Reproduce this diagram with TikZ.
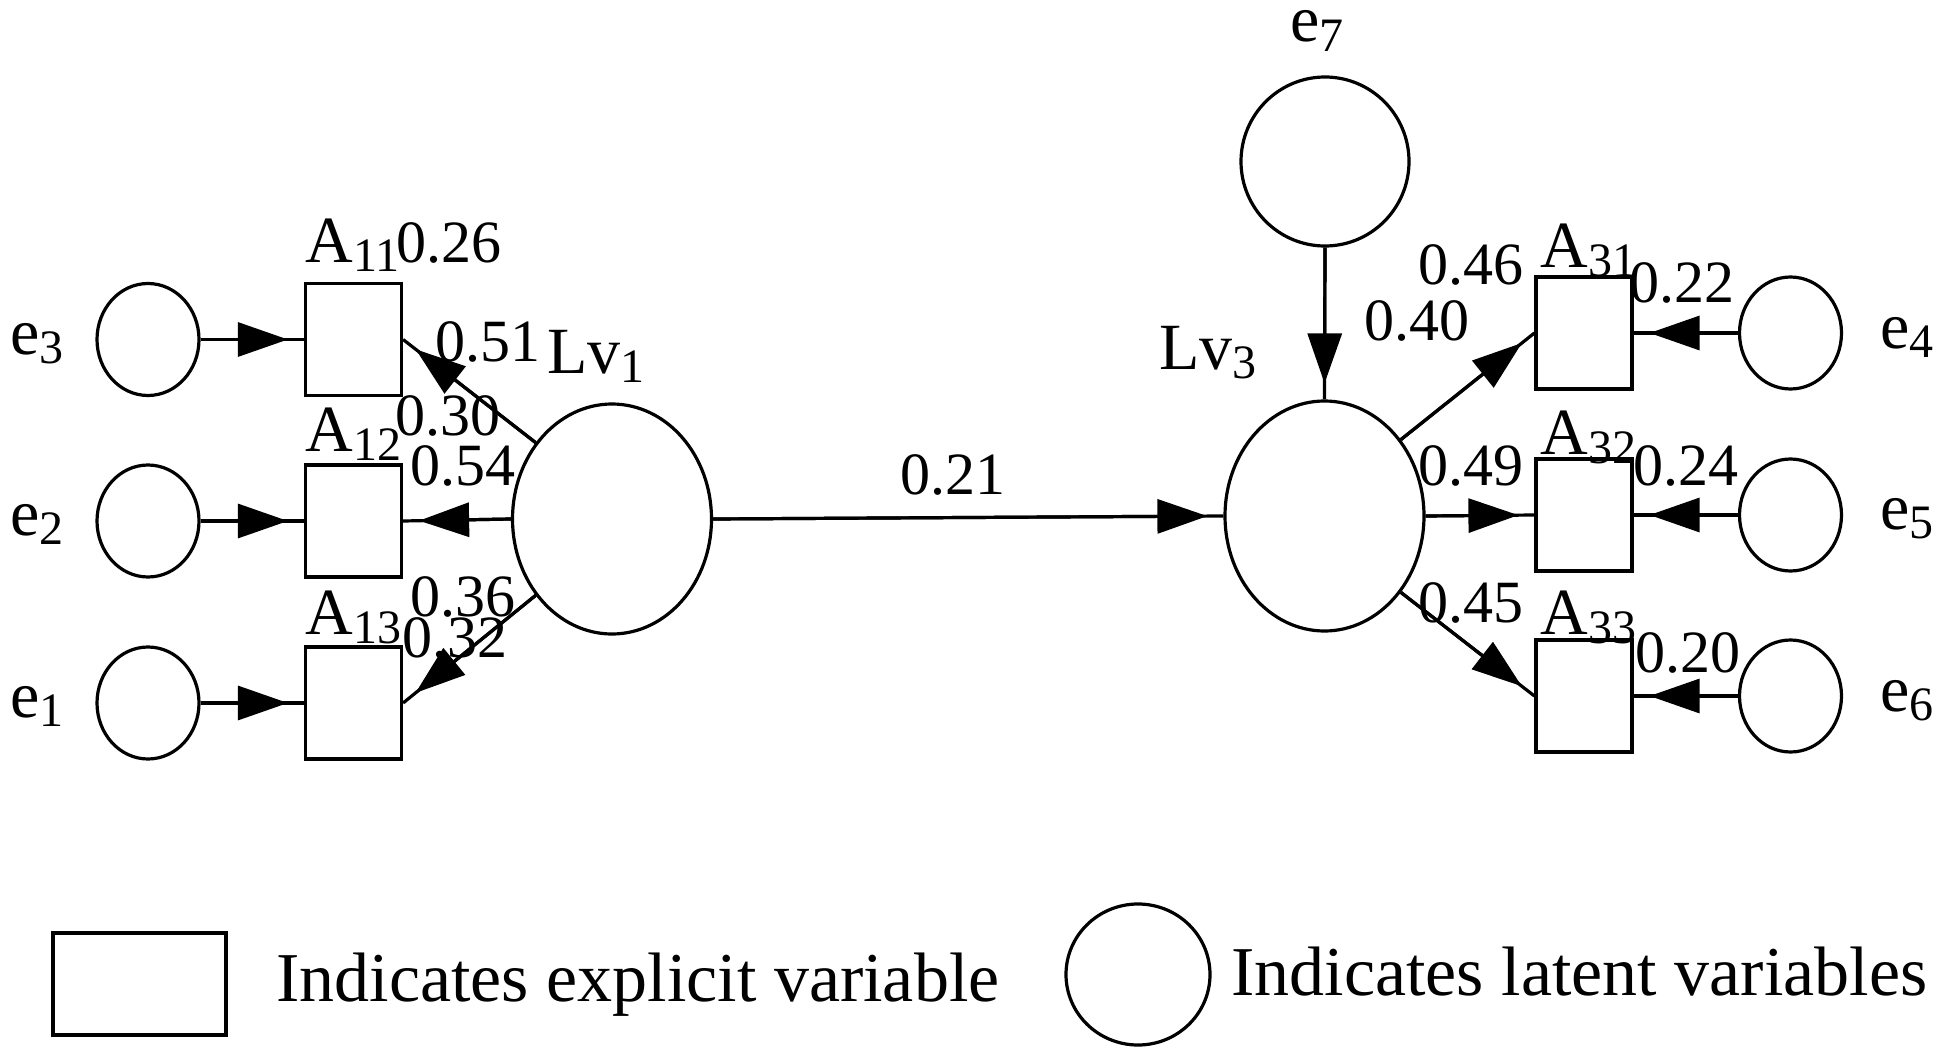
\documentclass[tikz,border=0pt]{standalone}
\usepackage{fontspec}
\setmainfont{Liberation Serif}
\usetikzlibrary{arrows.meta,shapes.geometric}
\newcommand\lsub[1]{\raisebox{-0.14em}{\fontsize{24}{26}\selectfont #1}}
\tikzset{
  ln/.style={line width=1.6pt},
  errc/.style={ellipse,draw,ln,inner sep=0pt,minimum width=51pt,minimum height=56pt},
  latv/.style={ellipse,draw,ln,inner sep=0pt,minimum width=99.5pt,minimum height=115pt},
  bigc/.style={ellipse,draw,ln,inner sep=0pt,minimum width=84pt,minimum height=84.5pt},
  obs/.style={rectangle,draw,ln,inner sep=0pt,minimum width=48pt,minimum height=56pt},
  pth/.style={ln,postaction={draw,-{Triangle[length=25pt,width=17pt]},shorten >=8pt}},
  num/.style={font=\fontsize{30}{32}\selectfont,inner sep=0pt,anchor=base west},
  lab/.style={font=\fontsize{33}{35}\selectfont,inner sep=0pt,anchor=base west},
  leg/.style={font=\fontsize{35}{37}\selectfont,inner sep=0pt,anchor=base west}
}
\begin{document}
\begin{tikzpicture}[x=0.5pt,y=-0.5pt]
\useasboundingbox (0,0) rectangle (1950,1054);
% left block
\node[errc] (e3) at (148,339.5) {};
\node[errc] (e2) at (148,521) {};
\node[errc] (e1) at (148,703) {};
\node[obs] (A11) at (353.5,339.5) {};
\node[obs] (A12) at (353.5,521) {};
\node[obs] (A13) at (353.5,703) {};
\node[latv] (Lv1) at (612,519) {};
% right block
\node[latv] (Lv3) at (1324.5,516) {};
\node[bigc] (e7) at (1325,161.5) {};
\node[obs] (A31) at (1584,333) {};
\node[obs] (A32) at (1584,515) {};
\node[obs] (A33) at (1584,696) {};
\node[errc] (e4) at (1790.5,333) {};
\node[errc] (e5) at (1790.5,515) {};
\node[errc] (e6) at (1790.5,696) {};
% connectors
\draw[pth] (e3.east) -- (A11.west);
\draw[pth] (e2.east) -- (A12.west);
\draw[pth] (e1.east) -- (A13.west);
\draw[pth] (Lv1.135) -- (A11.east);
\draw[pth] (Lv1.west) -- (A12.east);
\draw[pth] (Lv1.225) -- (A13.east);
\draw[pth] (Lv1.east) -- (Lv3.west);
\draw[pth] (e7.south) -- (Lv3.north);
\draw[pth] (Lv3.45) -- (A31.west);
\draw[pth] (Lv3.east) -- (A32.west);
\draw[pth] (Lv3.-45) -- (A33.west);
\draw[pth] (e4.west) -- (A31.east);
\draw[pth] (e5.west) -- (A32.east);
\draw[pth] (e6.west) -- (A33.east);
% variable labels
\node[lab] (le3) at (10,354) {e\lsub{3}};
\node[lab] (le2) at (10,535) {e\lsub{2}};
\node[lab] (le1) at (10,717) {e\lsub{1}};
\node[lab] (le4) at (1880,348) {e\lsub{4}};
\node[lab] (le5) at (1880,529) {e\lsub{5}};
\node[lab] (le6) at (1880,711) {e\lsub{6}};
\node[lab] (le7) at (1290,42) {e\lsub{7}};
\node[lab] (lA11) at (305,262) {A\lsub{11}};
\node[lab] (lA12) at (305,451) {A\lsub{12}};
\node[lab] (lA13) at (305,634) {A\lsub{13}};
\node[lab] (lA31) at (1540,267) {A\lsub{31}};
\node[lab] (lA32) at (1540,454) {A\lsub{32}};
\node[lab] (lA33) at (1540,634) {A\lsub{33}};
\node[lab] (lLv1) at (547,373) {Lv\lsub{1}};
\node[lab] (lLv3) at (1159,369) {Lv\lsub{3}};
% coefficients
\node[num] (c026) at (396,262) {0.26};
\node[num] (c051) at (435,361) {0.51};
\node[num] (c030) at (395,435) {0.30};
\node[num] (c054) at (410,485) {0.54};
\node[num] (c036) at (410,616) {0.36};
\node[num] (c032) at (402,657) {0.32};
\node[num] (c021) at (900,494) {0.21};
\node[num] (c046) at (1418,284) {0.46};
\node[num] (c022) at (1629,302) {0.22};
\node[num] (c040) at (1364,340) {0.40};
\node[num] (c049) at (1418,485) {0.49};
\node[num] (c024) at (1633,485) {0.24};
\node[num] (c045) at (1418,622) {0.45};
\node[num] (c020) at (1635,672) {0.20};
% legend
\node[rectangle,draw,line width=2pt,inner sep=0pt,minimum width=86.5pt,minimum height=51pt] (legbox) at (139.5,984) {};
\node[ellipse,draw,ln,inner sep=0pt,minimum width=72pt,minimum height=70.5pt] (legcirc) at (1138,974.5) {};
\node[leg] (legt1) at (276,1001) {Indicates explicit variable};
\node[leg] (legt2) at (1231,995) {Indicates latent variables};
\end{tikzpicture}
\end{document}
